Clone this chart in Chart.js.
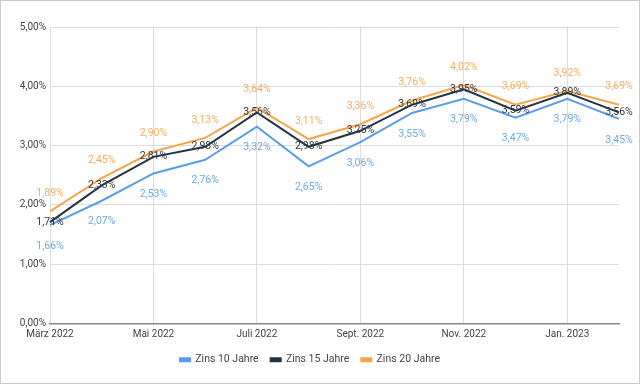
<!DOCTYPE html>
<html>
<head>
<meta charset="utf-8">
<script src="https://cdn.jsdelivr.net/npm/chart.js@4"></script>
<style>
  html, body { margin: 0; padding: 0; background: #fff; }
  .frame { width: 638px; height: 382px; border: 1px solid #c8c8c8; position: relative; }
  canvas { display: block; }
</style>
</head>
<body>
<div class="frame"><canvas id="chart" width="638" height="382"></canvas></div>
<script>
const months = ['März 2022', 'Apr. 2022', 'Mai 2022', 'Juni 2022', 'Juli 2022', 'Aug. 2022',
                'Sept. 2022', 'Okt. 2022', 'Nov. 2022', 'Dez. 2022', 'Jan. 2023', 'Feb. 2023'];
const zins10 = [1.66, 2.07, 2.53, 2.76, 3.32, 2.65, 3.06, 3.55, 3.79, 3.47, 3.79, 3.45];
const zins15 = [1.71, 2.33, 2.81, 2.98, 3.56, 2.98, 3.25, 3.69, 3.95, 3.59, 3.89, 3.56];
const zins20 = [1.89, 2.45, 2.90, 3.13, 3.64, 3.11, 3.36, 3.76, 4.02, 3.69, 3.92, 3.69];
const yTicks = [0, 1, 2, 3, 4, 5];

const fmt = v => v.toFixed(2).replace('.', ',') + '%';

// value labels: blue below, dark on the point, orange above
const labelStyle = [
    { dy: 21, color: '#6fa8e6' },
    { dy: 0, color: '#333a40' },
    { dy: -18, color: '#f2ae62' }
];

const valueLabels = {
    id: 'valueLabels',
    afterDatasetsDraw(chart) {
        const ctx = chart.ctx;
        ctx.save();
        ctx.font = '10.5px Roboto';
        ctx.textAlign = 'center';
        ctx.textBaseline = 'middle';
        chart.data.datasets.forEach((ds, i) => {
            const meta = chart.getDatasetMeta(i);
            const st = labelStyle[i];
            meta.data.forEach((pt, j) => {
                ctx.fillStyle = st.color;
                ctx.fillText(fmt(ds.data[j]), pt.x, pt.y + st.dy);
            });
        });
        ctx.restore();
    }
};

function line(label, data, color) {
    return {
        label: label,
        data: data,
        borderColor: color,
        backgroundColor: color,
        borderWidth: 2,
        pointRadius: 0,
        tension: 0
    };
}

new Chart(document.getElementById('chart'), {
    type: 'line',
    data: {
        labels: months,
        datasets: [
            line('Zins 10 Jahre', zins10, '#5a9bea'),
            line('Zins 15 Jahre', zins15, '#263340'),
            line('Zins 20 Jahre', zins20, '#f5a54a')
        ]
    },
    options: {
        responsive: false,
        animation: false,
        layout: { padding: { left: 0, right: 20, top: 26, bottom: 8 } },
        plugins: {
            legend: {
                position: 'bottom',
                labels: {
                    boxWidth: 10,
                    boxHeight: 3,
                    padding: 12,
                    color: '#444',
                    font: { family: 'Roboto', size: 10.5 }
                }
            },
            tooltip: { enabled: false }
        },
        scales: {
            x: {
                offset: false,
                afterFit: s => { s.height = 19; },
                grid: {
                    color: c => (c.index % 2 === 0 ? '#dcdcdc' : 'rgba(0,0,0,0)'),
                    drawTicks: false
                },
                border: { color: '#8a8a8a', width: 1.5 },
                ticks: {
                    autoSkip: false,
                    maxRotation: 0,
                    padding: 5,
                    color: '#444',
                    font: { family: 'Roboto', size: 10 },
                    callback: (v, i) => (i % 2 === 0 ? months[i] : '')
                }
            },
            y: {
                min: yTicks[0],
                max: yTicks[yTicks.length - 1],
                afterBuildTicks: s => { s.ticks = yTicks.map(v => ({ value: v })); },
                afterFit: s => { s.width = 49; },
                grid: { color: '#dcdcdc', drawTicks: false },
                border: { display: false },
                ticks: {
                    padding: 4,
                    color: '#444',
                    font: { family: 'Roboto', size: 10 },
                    callback: v => fmt(v)
                }
            }
        }
    },
    plugins: [valueLabels]
});
</script>
</body>
</html>
